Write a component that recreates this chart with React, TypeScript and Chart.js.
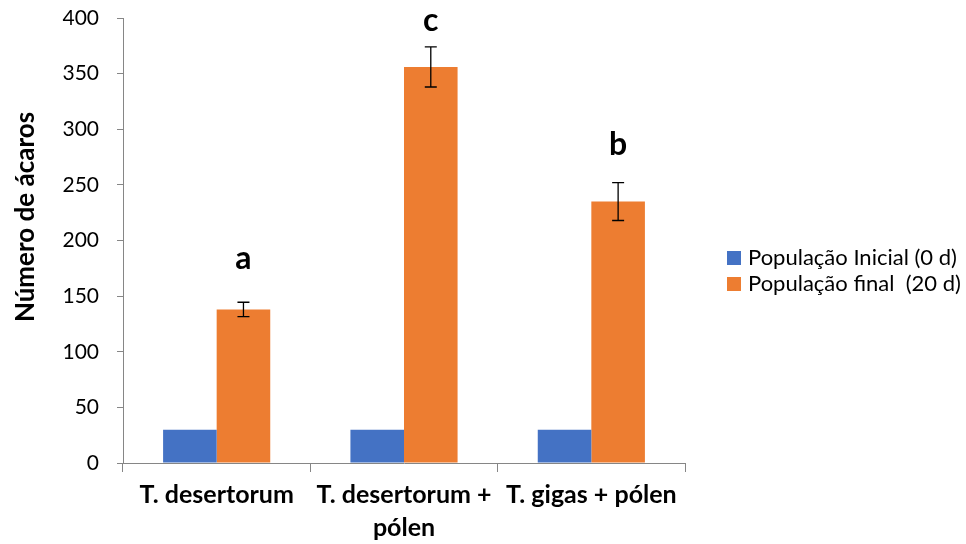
import React, { useEffect, useRef } from "react";
import { Chart, registerables } from "chart.js";

Chart.register(...registerables);

const categories: string[][] = [["T. desertorum"], ["T. desertorum +", "pólen"], ["T. gigas + pólen"]];
const seriesNames = ["População Inicial (0 d)", "População final  (20 d)"];
const initialPop = [30, 30, 30];
const finalPop = [138, 356, 235];
const finalErr = [6.5, 18, 17];
const letters = ["a", "c", "b"];
const letterValues = [184, 398, 286];
const yMin = 0;
const yMax = 400;
const yStep = 50;
const yTitle = "Número de ácaros";

const FONT = "Lato, 'Open Sans', sans-serif";

export default function App() {
  const ref = useRef<HTMLCanvasElement | null>(null);

  useEffect(() => {
    if (!ref.current) return;

    const extras = {
      id: "extras",
      afterDatasetsDraw(chart: any) {
        const ctx = chart.ctx;
        const y = chart.scales.y;
        const meta = chart.getDatasetMeta(1);
        ctx.save();
        ctx.strokeStyle = "#000";
        ctx.lineWidth = 1.3;
        meta.data.forEach((bar: any, i: number) => {
          const x = bar.x;
          const top = y.getPixelForValue(finalPop[i] + finalErr[i]);
          const bot = y.getPixelForValue(finalPop[i] - finalErr[i]);
          ctx.beginPath();
          ctx.moveTo(x, top);
          ctx.lineTo(x, bot);
          ctx.moveTo(x - 6, top);
          ctx.lineTo(x + 6, top);
          ctx.moveTo(x - 6, bot);
          ctx.lineTo(x + 6, bot);
          ctx.stroke();
          ctx.fillStyle = "#000";
          ctx.font = `bold 32px ${FONT}`;
          ctx.textAlign = "center";
          ctx.textBaseline = "middle";
          ctx.fillText(letters[i], x, y.getPixelForValue(letterValues[i]));
        });
        ctx.restore();
      },
      afterDraw(chart: any) {
        const ctx = chart.ctx;
        ctx.save();
        // y-axis title
        ctx.translate(26, 217);
        ctx.rotate(-Math.PI / 2);
        ctx.fillStyle = "#000";
        ctx.font = `bold 26px ${FONT}`;
        ctx.textAlign = "center";
        ctx.textBaseline = "middle";
        ctx.fillText(yTitle, 0, 0);
        ctx.restore();
        // legend
        ctx.save();
        chart.data.datasets.forEach((ds: any, i: number) => {
          const cy = 258 + i * 26;
          ctx.fillStyle = ds.backgroundColor;
          ctx.fillRect(727, cy - 7, 14, 14);
          ctx.fillStyle = "#000";
          ctx.font = `22px ${FONT}`;
          ctx.textAlign = "left";
          ctx.textBaseline = "middle";
          ctx.fillText(ds.label, 748, cy);
        });
        ctx.restore();
      },
    };

    const chart = new Chart(ref.current, {
      type: "bar",
      data: {
        labels: categories as any,
        datasets: [
          { label: seriesNames[0], data: initialPop, backgroundColor: "#4472C4", categoryPercentage: 0.572, barPercentage: 1 },
          { label: seriesNames[1], data: finalPop, backgroundColor: "#ED7D31", categoryPercentage: 0.572, barPercentage: 1 },
        ],
      },
      options: {
        responsive: false,
        animation: false,
        layout: { padding: { left: 0, right: 281, top: 18, bottom: 0 } },
        plugins: { legend: { display: false }, tooltip: { enabled: false } },
        scales: {
          x: {
            offset: true,
            grid: { offset: true, drawOnChartArea: false, tickLength: 9, color: "#868686" },
            border: { color: "#868686" },
            ticks: { color: "#000", font: { family: FONT, size: 25, weight: "bold", lineHeight: 1.32 }, padding: 6, maxRotation: 0, autoSkip: false },
            afterFit(scale: any) { scale.height = 81; },
          },
          y: {
            min: yMin,
            max: yMax,
            grid: { drawOnChartArea: false, tickLength: 6, color: "#868686" },
            border: { color: "#868686" },
            ticks: { stepSize: yStep, color: "#000", font: { family: FONT, size: 21 }, padding: 18 },
            afterFit(scale: any) {
              scale.width = 123;
              scale.paddingTop = 0;
              scale.paddingBottom = 0;
            },
          },
        },
      },
      plugins: [extras],
    });
    return () => chart.destroy();
  }, []);

  return (
    <div style={{ position: "absolute", left: 0, top: 0, width: 966, height: 544, background: "#fff" }}>
      <canvas ref={ref} width={966} height={544} />
    </div>
  );
}
